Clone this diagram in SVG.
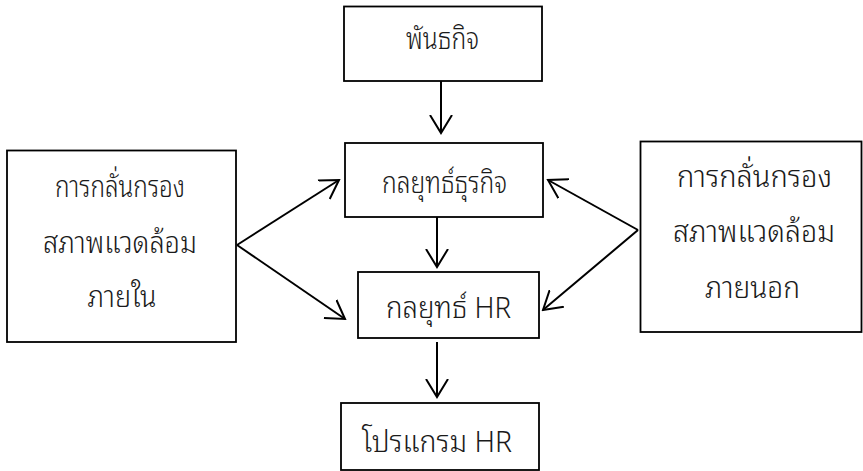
<svg xmlns="http://www.w3.org/2000/svg" width="863" height="471" viewBox="0 0 863 471">
<style>
.box{fill:#fff;stroke:#000;stroke-width:1.8}
.t{font-family:"Noto Sans Thai Looped","Noto Sans Thai","Noto Sans","DejaVu Sans",sans-serif;font-size:22px;font-weight:300;fill:#1a1a1a;text-anchor:middle}
.c{fill:none;stroke:#000;stroke-width:2}
</style>
<defs>
<marker id="ah" markerWidth="20" markerHeight="24" refX="18" refY="12" orient="auto" markerUnits="userSpaceOnUse">
<path d="M0,1 L18,12 L0,23" fill="none" stroke="#000" stroke-width="2"/>
</marker>
</defs>
<rect width="863" height="471" fill="#fff"/>
<g id="n1"><rect class="box" x="344" y="6.5" width="198" height="74.5"/><text class="t" transform="translate(442.5,49) scale(1,1.35)" textLength="73" lengthAdjust="spacingAndGlyphs">พันธกิจ</text></g>
<g id="n2"><rect class="box" x="345" y="143" width="198" height="74"/><text class="t" transform="translate(444.5,193) scale(1,1.35)" textLength="125" lengthAdjust="spacingAndGlyphs">กลยุทธ์ธุรกิจ</text></g>
<g id="n3"><rect class="box" x="358" y="272" width="181" height="66"/><text class="t" transform="translate(448.5,318) scale(1,1.35)" textLength="125" lengthAdjust="spacingAndGlyphs">กลยุทธ์ HR</text></g>
<g id="n4"><rect class="box" x="341" y="403" width="198" height="67"/><text class="t" transform="translate(437,452) scale(1,1.35)" textLength="150" lengthAdjust="spacingAndGlyphs">โปรแกรม HR</text></g>
<g id="n5"><rect class="box" x="7" y="150.5" width="229" height="191.5"/>
<text class="t" transform="translate(120,197) scale(1,1.35)" textLength="130" lengthAdjust="spacingAndGlyphs">การกลั่นกรอง</text>
<text class="t" transform="translate(120,253) scale(1,1.35)" textLength="154" lengthAdjust="spacingAndGlyphs">สภาพแวดล้อม</text>
<text class="t" transform="translate(122,307) scale(1,1.35)" textLength="69" lengthAdjust="spacingAndGlyphs">ภายใน</text></g>
<g id="n6"><rect class="box" x="640.5" y="141.5" width="221" height="190.5"/>
<text class="t" transform="translate(754.5,187) scale(1,1.35)" textLength="155" lengthAdjust="spacingAndGlyphs">การกลั่นกรอง</text>
<text class="t" transform="translate(754,242) scale(1,1.35)" textLength="162" lengthAdjust="spacingAndGlyphs">สภาพแวดล้อม</text>
<text class="t" transform="translate(752.5,298) scale(1,1.35)" textLength="95" lengthAdjust="spacingAndGlyphs">ภายนอก</text></g>
<g id="connectors">
<path class="c" d="M441,81 L441,133" marker-end="url(#ah)"/>
<path class="c" d="M437,217 L437,267" marker-end="url(#ah)"/>
<path class="c" d="M437,342 L437,397" marker-end="url(#ah)"/>
<path class="c" d="M237,245 L339,180" marker-end="url(#ah)"/>
<path class="c" d="M237,245 L345,319" marker-end="url(#ah)"/>
<path class="c" d="M638,230 L548,180" marker-end="url(#ah)"/>
<path class="c" d="M638,230 L543,310" marker-end="url(#ah)"/>
</g>
</svg>
